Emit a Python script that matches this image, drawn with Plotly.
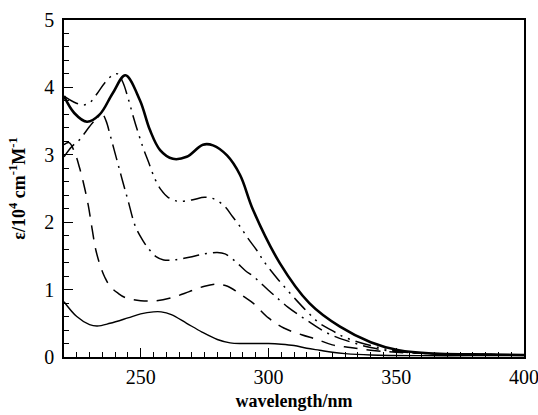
import plotly.graph_objects as go

# wavelength (nm) / epsilon (10^4 cm^-1 M^-1) per curve
wl_thin = [220, 225, 230, 233, 238, 245, 250, 255, 258, 262, 268, 274, 280, 285, 290, 300, 305, 310, 315, 320, 325, 330, 340, 360, 380, 400]
eps_thin = [0.82, 0.6, 0.48, 0.46, 0.5, 0.58, 0.64, 0.67, 0.67, 0.63, 0.5, 0.37, 0.26, 0.21, 0.2, 0.2, 0.19, 0.17, 0.13, 0.1, 0.07, 0.05, 0.03, 0.02, 0.02, 0.02]

wl_dash = [220, 222, 224.5, 226, 227.5, 229.5, 231, 232.5, 234.5, 236, 238, 241, 244, 250, 256, 263, 269, 275, 280, 284, 288, 291, 294, 300, 306, 313, 319, 325, 332, 340, 350, 365, 380, 400]
eps_dash = [3.15, 3.18, 3.0, 2.82, 2.6, 2.25, 1.9, 1.58, 1.32, 1.18, 1.05, 0.95, 0.88, 0.835, 0.835, 0.89, 0.97, 1.05, 1.08, 1.05, 0.96, 0.88, 0.8, 0.58, 0.43, 0.33, 0.26, 0.18, 0.14, 0.1, 0.07, 0.05, 0.04, 0.03]

wl_dashdot = [220, 223, 226, 230, 233, 235, 236.5, 238, 241, 243, 245, 248, 251, 253, 256, 259, 263, 269, 275, 280, 283, 287, 291, 294, 300, 303, 307.6, 312, 316, 320, 325, 330, 340, 350, 365, 380, 400]
eps_dashdot = [2.97, 3.12, 3.22, 3.42, 3.55, 3.6, 3.5, 3.3, 2.88, 2.6, 2.33, 1.93, 1.72, 1.61, 1.49, 1.44, 1.44, 1.48, 1.53, 1.55, 1.53, 1.42, 1.28, 1.2, 0.99, 0.89, 0.74, 0.62, 0.52, 0.42, 0.32, 0.25, 0.14, 0.08, 0.05, 0.04, 0.03]

wl_dd = [220, 224, 227.5, 230, 233, 236, 239, 241, 243, 245, 247, 249, 251, 253, 255.6, 258, 260.7, 264.6, 270, 275, 279, 283, 286, 289, 292, 295.5, 298, 301, 304, 307, 311, 315.5, 320, 325, 330, 340, 350, 365, 380, 400]
eps_dd = [3.87, 3.78, 3.74, 3.77, 3.91, 4.07, 4.18, 4.2, 4.08, 3.85, 3.58, 3.33, 3.1, 2.9, 2.64, 2.48, 2.37, 2.31, 2.33, 2.37, 2.34, 2.23, 2.08, 1.93, 1.76, 1.58, 1.43, 1.28, 1.14, 1.01, 0.84, 0.66, 0.5, 0.39, 0.29, 0.17, 0.09, 0.05, 0.04, 0.03]

wl_thick = [220, 224, 229, 234, 239, 244, 249.7, 253.6, 257.6, 262.6, 268, 274.4, 278.3, 283.8, 288.9, 294, 304.5, 316, 328, 340, 351, 365, 380, 400]
eps_thick = [3.87, 3.62, 3.49, 3.6, 3.91, 4.18, 3.81, 3.37, 3.07, 2.94, 2.97, 3.15, 3.14, 2.99, 2.70, 2.18, 1.39, 0.80, 0.45, 0.22, 0.10, 0.05, 0.04, 0.03]

x_tickvals = [250, 300, 350, 400]
y_tickvals = [0, 1, 2, 3, 4, 5]

series = [
    (wl_thin, eps_thin, 1.4, "solid"),
    (wl_dash, eps_dash, 1.5, "14px,9px"),
    (wl_dashdot, eps_dashdot, 1.5, "16px,6px,2px,6px"),
    (wl_dd, eps_dd, 1.5, "16px,6px,2px,6px,2px,6px"),
    (wl_thick, eps_thick, 2.6, "solid"),
]

fig = go.Figure()
for xs, ys, w, d in series:
    fig.add_trace(go.Scatter(x=xs, y=ys, mode="lines",
                             line=dict(color="black", width=w, dash=d, shape="spline", smoothing=1.0),
                             showlegend=False, hoverinfo="skip"))

font_fam = "Liberation Serif, Times New Roman, serif"
fig.update_layout(
    width=538, height=415, autosize=False,
    margin=dict(l=64, r=14, t=20, b=58, autoexpand=False),
    paper_bgcolor="white", plot_bgcolor="white",
    font=dict(family=font_fam, color="black", size=20),
)
fig.update_xaxes(
    range=[220, 400], tickvals=x_tickvals, ticktext=[str(v) for v in x_tickvals],
    automargin=False,
    ticks="inside", ticklen=9, tickwidth=1.3, tickcolor="black",
    minor=dict(dtick=5, tick0=0, ticks="inside", ticklen=5, tickwidth=1, tickcolor="black"),
    showline=True, linecolor="black", linewidth=1.6, mirror=True,
    showgrid=False, zeroline=False,
    tickfont=dict(size=20, family=font_fam),
    ticklabeloverflow="allow",
    ticklabelstandoff=1,
    title=dict(text="<b>wavelength/nm</b>", font=dict(size=18, family=font_fam), standoff=8),
)
fig.update_yaxes(
    range=[0, 5], tickvals=y_tickvals, ticktext=[str(v) for v in y_tickvals],
    automargin=False,
    ticks="inside", ticklen=9, tickwidth=1.3, tickcolor="black",
    minor=dict(dtick=0.2, tick0=0, ticks="inside", ticklen=5, tickwidth=1, tickcolor="black"),
    showline=True, linecolor="black", linewidth=1.6, mirror=True,
    showgrid=False, zeroline=False,
    tickfont=dict(size=20, family=font_fam),
    ticklabeloverflow="allow",
    ticklabelstandoff=4,
    title=dict(text="<b>ε/10<sup>4</sup> cm<sup>-1</sup>M<sup>-1</sup></b>", font=dict(size=18, family=font_fam), standoff=14),
)
fig.write_html("out.html", config={"displayModeBar": False},
               post_script="document.body.style.margin='0';document.body.style.overflow='hidden';")
